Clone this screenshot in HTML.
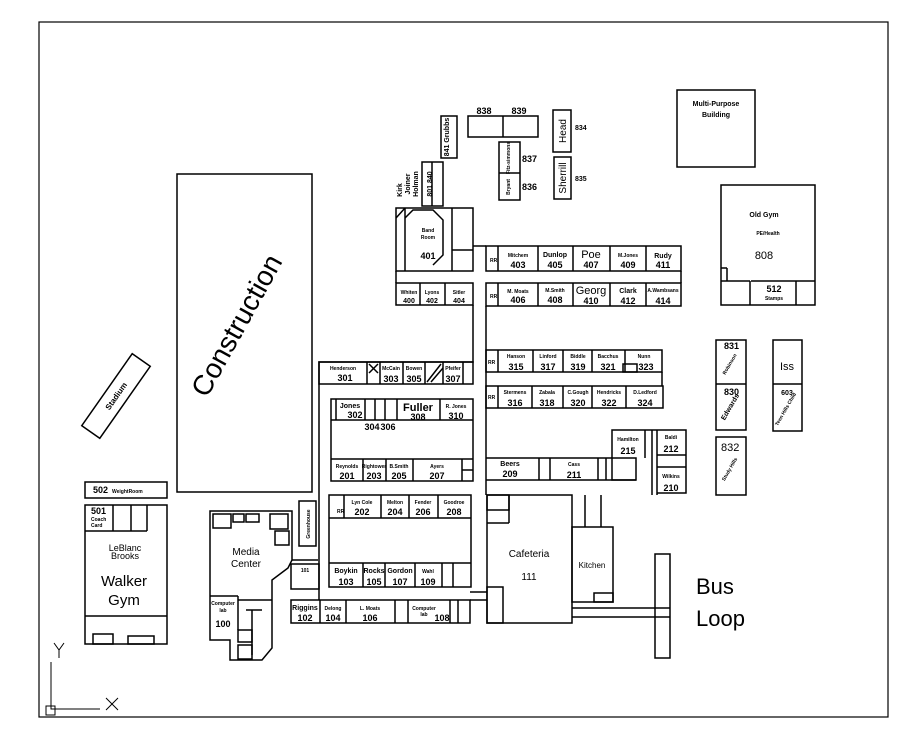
<!DOCTYPE html>
<html><head><meta charset="utf-8"><style>
html,body{margin:0;padding:0;background:#fff;}
svg{display:block;}
text{font-family:"Liberation Sans",sans-serif;fill:#000;}
.s{font-size:5px;font-weight:bold;}
.n{font-size:9px;font-weight:bold;}
.m{font-size:7px;font-weight:bold;}
</style></head><body>
<svg width="905" height="747" viewBox="0 0 905 747" xmlns="http://www.w3.org/2000/svg">
<g fill="none" stroke="#000" stroke-width="1.5">
<rect x="39" y="22" width="849" height="695" stroke-width="1.2"/>
<rect x="177" y="174" width="135" height="318"/>
<g transform="translate(116,396) rotate(-55)"><rect x="-44" y="-11" width="88" height="22"/></g>
<rect x="85" y="482" width="82" height="16"/>
<rect x="85" y="505" width="82" height="139"/>
<line x1="85" y1="531" x2="147" y2="531"/><line x1="113" y1="505" x2="113" y2="531"/><line x1="131" y1="505" x2="131" y2="531"/><line x1="147" y1="505" x2="147" y2="531"/>
<line x1="85" y1="616" x2="167" y2="616"/>
<rect x="93" y="634" width="20" height="10"/><rect x="128" y="636" width="26" height="8"/>
<polygon points="210,511 292,511 292,560 288,568 272,580 272,648 262,660 230,660 230,640 210,640"/>
<line x1="210" y1="596" x2="238" y2="596"/><line x1="238" y1="596" x2="238" y2="630"/><line x1="238" y1="600" x2="272" y2="600"/>
<rect x="213" y="514" width="18" height="14"/><rect x="233" y="514" width="11" height="8"/><rect x="246" y="514" width="13" height="8"/><rect x="270" y="514" width="18" height="15"/>
<rect x="275" y="531" width="14" height="14"/><line x1="246" y1="610" x2="262" y2="610"/><line x1="252" y1="610" x2="252" y2="655"/><rect x="238" y="630" width="14" height="12"/><rect x="238" y="645" width="14" height="14"/>
<rect x="299" y="501" width="17" height="45"/>
<rect x="291" y="564" width="28" height="25"/>
<line x1="292" y1="560" x2="318" y2="560"/>
<polyline points="319,600 319,362 473,362 473,305"/>
<rect x="319" y="362" width="154" height="22"/>
<line x1="367" y1="362" x2="367" y2="384"/><line x1="380" y1="362" x2="380" y2="384"/><line x1="403" y1="362" x2="403" y2="384"/><line x1="425" y1="362" x2="425" y2="384"/><line x1="443" y1="362" x2="443" y2="384"/><line x1="463" y1="362" x2="463" y2="384"/>
<line x1="369" y1="364" x2="378" y2="373"/><line x1="378" y1="364" x2="369" y2="373"/>
<line x1="427" y1="382" x2="441" y2="364"/><line x1="431" y1="382" x2="443" y2="368"/>
<rect x="331" y="399" width="142" height="82"/>
<line x1="331" y1="420" x2="473" y2="420"/><line x1="331" y1="459" x2="473" y2="459"/>
<line x1="336" y1="399" x2="336" y2="420"/><line x1="365" y1="399" x2="365" y2="420"/><line x1="375" y1="399" x2="375" y2="420"/><line x1="385" y1="399" x2="385" y2="420"/><line x1="397" y1="399" x2="397" y2="420"/><line x1="440" y1="399" x2="440" y2="420"/>
<line x1="363" y1="459" x2="363" y2="481"/><line x1="386" y1="459" x2="386" y2="481"/><line x1="413" y1="459" x2="413" y2="481"/><line x1="462" y1="459" x2="462" y2="481"/><line x1="462" y1="470" x2="473" y2="470"/>
<rect x="329" y="495" width="142" height="92"/>
<line x1="329" y1="518" x2="471" y2="518"/><line x1="329" y1="563" x2="471" y2="563"/>
<line x1="344" y1="495" x2="344" y2="518"/><line x1="381" y1="495" x2="381" y2="518"/><line x1="409" y1="495" x2="409" y2="518"/><line x1="438" y1="495" x2="438" y2="518"/>
<line x1="363" y1="563" x2="363" y2="587"/><line x1="385" y1="563" x2="385" y2="587"/><line x1="415" y1="563" x2="415" y2="587"/><line x1="442" y1="563" x2="442" y2="587"/><line x1="453" y1="563" x2="453" y2="587"/>
<rect x="291" y="600" width="179" height="23"/>
<line x1="320" y1="600" x2="320" y2="623"/><line x1="346" y1="600" x2="346" y2="623"/><line x1="395" y1="600" x2="395" y2="623"/><line x1="408" y1="600" x2="408" y2="623"/><line x1="450" y1="600" x2="450" y2="623"/><line x1="458" y1="600" x2="458" y2="623"/>
<line x1="470" y1="600" x2="487" y2="600"/><line x1="470" y1="592" x2="487" y2="592"/>
<rect x="396" y="208" width="77" height="63"/>
<line x1="396" y1="218" x2="405" y2="208"/><line x1="405" y1="208" x2="405" y2="271"/><polyline points="405,218 413,210 433,210 443,220 443,255 433,265"/>
<line x1="452" y1="208" x2="452" y2="271"/><line x1="452" y1="250" x2="473" y2="250"/>
<rect x="396" y="283" width="77" height="22"/>
<line x1="420" y1="283" x2="420" y2="305"/><line x1="445" y1="283" x2="445" y2="305"/>
<line x1="396" y1="271" x2="396" y2="283"/>
<line x1="473" y1="246" x2="486" y2="246"/>
<rect x="486" y="246" width="195" height="25"/>
<line x1="498" y1="246" x2="498" y2="271"/><line x1="538" y1="246" x2="538" y2="271"/><line x1="573" y1="246" x2="573" y2="271"/><line x1="610" y1="246" x2="610" y2="271"/><line x1="646" y1="246" x2="646" y2="271"/>
<line x1="681" y1="271" x2="681" y2="283"/>
<rect x="486" y="283" width="195" height="23"/>
<line x1="498" y1="283" x2="498" y2="306"/><line x1="538" y1="283" x2="538" y2="306"/><line x1="573" y1="283" x2="573" y2="306"/><line x1="610" y1="283" x2="610" y2="306"/><line x1="646" y1="283" x2="646" y2="306"/>
<line x1="486" y1="306" x2="486" y2="495"/>
<rect x="486" y="350" width="176" height="22"/>
<line x1="498" y1="350" x2="498" y2="372"/><line x1="533" y1="350" x2="533" y2="372"/><line x1="563" y1="350" x2="563" y2="372"/><line x1="592" y1="350" x2="592" y2="372"/><line x1="625" y1="350" x2="625" y2="372"/><rect x="623" y="364" width="14" height="8"/>
<line x1="662" y1="372" x2="662" y2="386"/>
<rect x="486" y="386" width="177" height="22"/>
<line x1="498" y1="386" x2="498" y2="408"/><line x1="532" y1="386" x2="532" y2="408"/><line x1="563" y1="386" x2="563" y2="408"/><line x1="592" y1="386" x2="592" y2="408"/><line x1="626" y1="386" x2="626" y2="408"/>
<polyline points="486,458 612,458 612,430 686,430 686,493 657,493"/>
<line x1="486" y1="480" x2="636" y2="480"/><line x1="539" y1="458" x2="539" y2="480"/><line x1="550" y1="458" x2="550" y2="480"/><line x1="598" y1="458" x2="598" y2="480"/><line x1="606" y1="458" x2="606" y2="480"/><rect x="612" y="458" width="24" height="22"/>
<line x1="645" y1="430" x2="645" y2="458"/><line x1="652" y1="430" x2="652" y2="495"/><line x1="657" y1="430" x2="657" y2="495"/><line x1="657" y1="455" x2="686" y2="455"/><line x1="657" y1="467" x2="686" y2="467"/>
<rect x="487" y="495" width="85" height="128"/>
<rect x="487" y="495" width="22" height="15"/><line x1="487" y1="523" x2="509" y2="523"/><line x1="509" y1="495" x2="509" y2="523"/>
<rect x="487" y="587" width="16" height="36"/>
<line x1="585" y1="495" x2="585" y2="527"/><line x1="601" y1="495" x2="601" y2="527"/>
<rect x="572" y="527" width="41" height="75"/><rect x="594" y="593" width="19" height="9"/>
<line x1="572" y1="608" x2="655" y2="608"/><line x1="572" y1="617" x2="655" y2="617"/>
<rect x="655" y="554" width="15" height="104"/><line x1="655" y1="608" x2="670" y2="608"/><line x1="655" y1="617" x2="670" y2="617"/>
<rect x="468" y="116" width="70" height="21"/><line x1="503" y1="116" x2="503" y2="137"/>
<rect x="441" y="116" width="16" height="42"/>
<rect x="422" y="162" width="21" height="44"/><line x1="432" y1="162" x2="432" y2="206"/>
<rect x="499" y="142" width="21" height="58"/><line x1="499" y1="173" x2="520" y2="173"/>
<rect x="553" y="110" width="18" height="42"/><rect x="554" y="157" width="17" height="42"/>
<rect x="677" y="90" width="78" height="77"/>
<rect x="721" y="185" width="94" height="120"/>
<line x1="721" y1="281" x2="750" y2="281"/><line x1="750" y1="281" x2="750" y2="305"/><line x1="721" y1="268" x2="727" y2="268"/><line x1="727" y1="268" x2="727" y2="281"/>
<line x1="751" y1="281" x2="815" y2="281"/><line x1="796" y1="281" x2="796" y2="305"/>
<rect x="716" y="340" width="30" height="90"/><line x1="716" y1="384" x2="746" y2="384"/>
<rect x="716" y="437" width="30" height="58"/>
<rect x="773" y="340" width="29" height="91"/><line x1="773" y1="384" x2="802" y2="384"/>
<polyline points="51,662 51,709 100,709" stroke-width="1"/>
<rect x="46" y="706" width="9" height="9" stroke-width="1"/>
<polyline points="54,643 59,650 64,643" stroke-width="1"/><line x1="59" y1="650" x2="59" y2="658" stroke-width="1"/>
<line x1="106" y1="698" x2="118" y2="710" stroke-width="1"/><line x1="118" y1="698" x2="106" y2="710" stroke-width="1"/>
</g>
<text x="245" y="330" font-size="28" text-anchor="middle" transform="rotate(-61 245 330)">Construction</text>
<text x="116" y="399" font-size="8" font-weight="bold" text-anchor="middle" transform="rotate(-55 116 396)">Stadium</text>
<text x="93" y="493" class="n">502</text><text x="112" y="493" class="s">WeightRoom</text>
<text x="91" y="514" class="n">501</text><text x="91" y="521" class="s">Coach</text><text x="91" y="527" class="s">Card</text>
<text x="125" y="551" font-size="9" text-anchor="middle">LeBlanc</text><text x="125" y="559" font-size="9" text-anchor="middle">Brooks</text>
<text x="124" y="586" font-size="15" text-anchor="middle">Walker</text><text x="124" y="605" font-size="15" text-anchor="middle">Gym</text>
<text x="246" y="555" font-size="10" text-anchor="middle">Media</text><text x="246" y="567" font-size="10" text-anchor="middle">Center</text>
<text x="223" y="605" class="s" text-anchor="middle">Computer</text><text x="223" y="612" class="s" text-anchor="middle">lab</text><text x="223" y="627" class="n" text-anchor="middle">100</text>
<text x="310" y="524" class="s" text-anchor="middle" transform="rotate(-90 310 524)">Greenhouse</text>
<text x="305" y="572" class="s" text-anchor="middle">101</text>
<text x="343" y="370" class="s" text-anchor="middle">Henderson</text><text x="345" y="381" class="n" text-anchor="middle">301</text>
<text x="391" y="370" class="s" text-anchor="middle">McCain</text><text x="391" y="382" class="n" text-anchor="middle">303</text>
<text x="414" y="370" class="s" text-anchor="middle">Bowen</text><text x="414" y="382" class="n" text-anchor="middle">305</text>
<text x="453" y="370" class="s" text-anchor="middle">Pfeifer</text><text x="453" y="382" class="n" text-anchor="middle">307</text>
<text x="350" y="408" class="m" text-anchor="middle">Jones</text><text x="355" y="418" class="n" text-anchor="middle">302</text>
<text x="372" y="430" class="n" text-anchor="middle">304</text><text x="388" y="430" class="n" text-anchor="middle">306</text>
<text x="418" y="411" font-size="11" font-weight="bold" text-anchor="middle">Fuller</text><text x="418" y="420" class="n" text-anchor="middle">308</text>
<text x="456" y="408" class="s" text-anchor="middle">R. Jones</text><text x="456" y="419" class="n" text-anchor="middle">310</text>
<text x="347" y="468" class="s" text-anchor="middle">Reynolds</text><text x="347" y="479" class="n" text-anchor="middle">201</text>
<text x="374" y="468" class="s" text-anchor="middle">Rightower</text><text x="374" y="479" class="n" text-anchor="middle">203</text>
<text x="399" y="468" class="s" text-anchor="middle">B.Smith</text><text x="399" y="479" class="n" text-anchor="middle">205</text>
<text x="437" y="468" class="s" text-anchor="middle">Ayers</text><text x="437" y="479" class="n" text-anchor="middle">207</text>
<text x="337" y="513" class="s">RR</text>
<text x="362" y="504" class="s" text-anchor="middle">Lyn Cole</text><text x="362" y="515" class="n" text-anchor="middle">202</text>
<text x="395" y="504" class="s" text-anchor="middle">Melton</text><text x="395" y="515" class="n" text-anchor="middle">204</text>
<text x="423" y="504" class="s" text-anchor="middle">Fender</text><text x="423" y="515" class="n" text-anchor="middle">206</text>
<text x="454" y="504" class="s" text-anchor="middle">Goodroe</text><text x="454" y="515" class="n" text-anchor="middle">208</text>
<text x="346" y="573" class="m" text-anchor="middle">Boykin</text><text x="346" y="585" class="n" text-anchor="middle">103</text>
<text x="374" y="573" class="m" text-anchor="middle">Rocks</text><text x="374" y="585" class="n" text-anchor="middle">105</text>
<text x="400" y="573" class="m" text-anchor="middle">Gordon</text><text x="400" y="585" class="n" text-anchor="middle">107</text>
<text x="428" y="573" class="s" text-anchor="middle">Wahl</text><text x="428" y="585" class="n" text-anchor="middle">109</text>
<text x="305" y="610" class="m" text-anchor="middle">Riggins</text><text x="305" y="621" class="n" text-anchor="middle">102</text>
<text x="333" y="610" class="s" text-anchor="middle">Delong</text><text x="333" y="621" class="n" text-anchor="middle">104</text>
<text x="370" y="610" class="s" text-anchor="middle">L. Moats</text><text x="370" y="621" class="n" text-anchor="middle">106</text>
<text x="424" y="610" class="s" text-anchor="middle">Computer</text><text x="424" y="616" class="s" text-anchor="middle">lab</text><text x="442" y="621" class="n" text-anchor="middle">108</text>
<text x="428" y="232" class="s" text-anchor="middle">Band</text><text x="428" y="239" class="s" text-anchor="middle">Room</text><text x="428" y="259" class="n" text-anchor="middle">401</text>
<text x="409" y="294" class="s" text-anchor="middle">Whiten</text><text x="409" y="303" class="m" text-anchor="middle">400</text>
<text x="432" y="294" class="s" text-anchor="middle">Lyons</text><text x="432" y="303" class="m" text-anchor="middle">402</text>
<text x="459" y="294" class="s" text-anchor="middle">Sitler</text><text x="459" y="303" class="m" text-anchor="middle">404</text>
<text x="490" y="262" class="s">RR</text><text x="490" y="298" class="s">RR</text><text x="488" y="364" class="s">RR</text><text x="488" y="399" class="s">RR</text>
<text x="518" y="257" class="s" text-anchor="middle">Mitchem</text><text x="518" y="268" class="n" text-anchor="middle">403</text>
<text x="555" y="257" class="m" text-anchor="middle">Dunlop</text><text x="555" y="268" class="n" text-anchor="middle">405</text>
<text x="591" y="258" font-size="11" text-anchor="middle">Poe</text><text x="591" y="268" class="n" text-anchor="middle">407</text>
<text x="628" y="257" class="s" text-anchor="middle">M.Jones</text><text x="628" y="268" class="n" text-anchor="middle">409</text>
<text x="663" y="258" class="m" text-anchor="middle">Rudy</text><text x="663" y="268" class="n" text-anchor="middle">411</text>
<text x="518" y="293" class="s" text-anchor="middle">M. Moats</text><text x="518" y="303" class="n" text-anchor="middle">406</text>
<text x="555" y="292" class="s" text-anchor="middle">M.Smith</text><text x="555" y="303" class="n" text-anchor="middle">408</text>
<text x="591" y="294" font-size="11" text-anchor="middle">Georg</text><text x="591" y="304" class="n" text-anchor="middle">410</text>
<text x="628" y="293" class="m" text-anchor="middle">Clark</text><text x="628" y="304" class="n" text-anchor="middle">412</text>
<text x="663" y="292" class="s" text-anchor="middle">A.Wambsans</text><text x="663" y="304" class="n" text-anchor="middle">414</text>
<text x="516" y="358" class="s" text-anchor="middle">Hanson</text><text x="516" y="370" class="n" text-anchor="middle">315</text>
<text x="548" y="358" class="s" text-anchor="middle">Linford</text><text x="548" y="370" class="n" text-anchor="middle">317</text>
<text x="578" y="358" class="s" text-anchor="middle">Biddle</text><text x="578" y="370" class="n" text-anchor="middle">319</text>
<text x="608" y="358" class="s" text-anchor="middle">Bacchus</text><text x="608" y="370" class="n" text-anchor="middle">321</text>
<text x="644" y="358" class="s" text-anchor="middle">Nunn</text><text x="646" y="370" class="n" text-anchor="middle">323</text>
<text x="515" y="394" class="s" text-anchor="middle">Stermens</text><text x="515" y="406" class="n" text-anchor="middle">316</text>
<text x="547" y="394" class="s" text-anchor="middle">Zabala</text><text x="547" y="406" class="n" text-anchor="middle">318</text>
<text x="578" y="394" class="s" text-anchor="middle">C.Gough</text><text x="578" y="406" class="n" text-anchor="middle">320</text>
<text x="609" y="394" class="s" text-anchor="middle">Hendricks</text><text x="609" y="406" class="n" text-anchor="middle">322</text>
<text x="645" y="394" class="s" text-anchor="middle">D.Ledford</text><text x="645" y="406" class="n" text-anchor="middle">324</text>
<text x="510" y="466" class="m" text-anchor="middle">Beers</text><text x="510" y="477" class="n" text-anchor="middle">209</text>
<text x="574" y="466" class="s" text-anchor="middle">Cass</text><text x="574" y="478" class="n" text-anchor="middle">211</text>
<text x="628" y="441" class="s" text-anchor="middle">Hamilton</text><text x="628" y="454" class="n" text-anchor="middle">215</text>
<text x="671" y="439" class="s" text-anchor="middle">Baldi</text><text x="671" y="452" class="n" text-anchor="middle">212</text>
<text x="671" y="478" class="s" text-anchor="middle">Wilkins</text><text x="671" y="491" class="n" text-anchor="middle">210</text>
<text x="529" y="557" font-size="10" text-anchor="middle">Cafeteria</text><text x="529" y="580" font-size="10" text-anchor="middle">111</text>
<text x="592" y="568" font-size="8" text-anchor="middle">Kitchen</text>
<text x="696" y="594" font-size="22">Bus</text><text x="696" y="626" font-size="22">Loop</text>
<text x="484" y="114" class="n" text-anchor="middle">838</text><text x="519" y="114" class="n" text-anchor="middle">839</text>
<text x="449" y="137" class="m" text-anchor="middle" transform="rotate(-90 449 137)">841 Grubbs</text>
<text x="432" y="184" class="m" text-anchor="middle" transform="rotate(-90 432 184)">801 840</text>
<text x="418" y="184" class="m" text-anchor="middle" transform="rotate(-90 418 184)">Holman</text>
<text x="410" y="184" class="m" text-anchor="middle" transform="rotate(-90 410 184)">Joiner</text>
<text x="402" y="190" class="m" text-anchor="middle" transform="rotate(-90 402 190)">Kirk</text>
<text x="510" y="158" class="s" text-anchor="middle" transform="rotate(-90 510 158)">Fitz-simmons</text>
<text x="510" y="187" class="s" text-anchor="middle" transform="rotate(-90 510 187)">Bryant</text>
<text x="522" y="162" class="n">837</text><text x="522" y="190" class="n">836</text>
<text x="566" y="131" font-size="10" text-anchor="middle" transform="rotate(-90 566 131)">Head</text>
<text x="566" y="178" font-size="10" text-anchor="middle" transform="rotate(-90 566 178)">Sherrill</text>
<text x="575" y="130" class="m">834</text><text x="575" y="181" class="m">835</text>
<text x="716" y="106" class="m" text-anchor="middle">Multi-Purpose</text><text x="716" y="117" class="m" text-anchor="middle">Building</text>
<text x="764" y="217" class="m" text-anchor="middle">Old Gym</text><text x="768" y="235" class="s" text-anchor="middle">PE/Health</text><text x="764" y="259" font-size="11" text-anchor="middle">808</text>
<text x="774" y="292" class="n" text-anchor="middle">512</text><text x="774" y="300" class="s" text-anchor="middle">Stamps</text>
<text x="724" y="349" class="n">831</text><text x="724" y="395" class="n">830</text><text x="721" y="451" font-size="11">832</text>
<text x="731" y="365" class="s" text-anchor="middle" transform="rotate(-60 731 365)">Robinson</text>
<text x="732" y="408" class="m" text-anchor="middle" transform="rotate(-60 732 408)">Edwards</text>
<text x="731" y="470" class="s" text-anchor="middle" transform="rotate(-60 731 470)">Study Hills</text>
<text x="787" y="370" font-size="11" text-anchor="middle">Iss</text><text x="787" y="395" class="m" text-anchor="middle">603</text>
<text x="787" y="410" class="s" text-anchor="middle" transform="rotate(-60 787 410)">Teen Hills Child</text>
</svg>
</body></html>
